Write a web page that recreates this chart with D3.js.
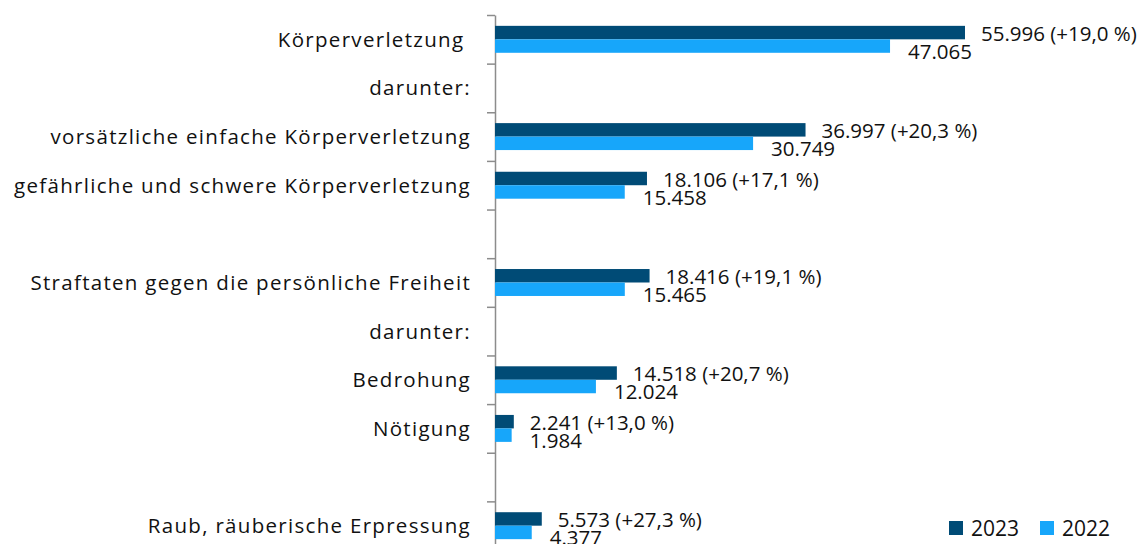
<!DOCTYPE html>
<html>
<head>
<meta charset="utf-8">
<script src="https://cdn.jsdelivr.net/npm/d3@7"></script>
<style>
  html, body { margin: 0; padding: 0; background: #fff; }
  svg { display: block; }
  text { font-family: "Open Sans", "Noto Sans", sans-serif; fill: #111; }
  text.cat { letter-spacing: 1.3px; }
</style>
</head>
<body>
<svg id="chart" width="1142" height="544"></svg>
<script>
// ---- data ----
const categories = [
  "Körperverletzung ",
  "darunter:",
  "vorsätzliche einfache Körperverletzung",
  "gefährliche und schwere Körperverletzung",
  "",
  "Straftaten gegen die persönliche Freiheit",
  "darunter:",
  "Bedrohung",
  "Nötigung",
  "",
  "Raub, räuberische Erpressung"
];
const values2023 = [55996, null, 36997, 18106, null, 18416, null, 14518, 2241, null, 5573];
const values2022 = [47065, null, 30749, 15458, null, 15465, null, 12024, 1984, null, 4377];
const changeLabels = ["+19,0 %", null, "+20,3 %", "+17,1 %", null, "+19,1 %", null, "+20,7 %", "+13,0 %", null, "+27,3 %"];
const seriesNames = ["2023", "2022"];
const colors = ["#004b76", "#17a6fa"];

(function () {
const svg = d3.select("#chart");
const axisX = 495;
const plotTop = 15, plotBottom = 550;

const x = d3.scaleLinear().domain([0, 60000]).range([axisX, axisX + 503.6]);
const rowIdx = d3.range(categories.length);
const y = d3.scaleBand().domain(rowIdx).range([plotTop, plotBottom]).paddingInner(0).paddingOuter(0);
const yLin = d3.scaleLinear().domain([0, categories.length]).range([plotTop, plotBottom]);

const locale = d3.formatLocale({decimal: ",", thousands: ".", grouping: [3], currency: ["", " €"]});
const fmt = locale.format(",d");

const barH = y.bandwidth() * 0.277;

// axis
const axis = d3.axisLeft(yLin).tickValues(d3.range(0, categories.length + 1)).tickSize(8).tickSizeOuter(0).tickFormat("");
const gAxis = svg.append("g").attr("transform", `translate(${axisX},0)`).call(axis);
gAxis.selectAll("path, line").attr("stroke", "#8c8c8c").attr("stroke-width", 1.5);

// category labels
svg.append("g").selectAll("text").data(rowIdx.filter(i => categories[i] !== "")).join("text")
  .attr("class", "cat")
  .attr("x", 471)
  .attr("y", i => y(i) + y.bandwidth() / 2)
  .attr("dy", "0.36em")
  .attr("text-anchor", "end")
  .attr("font-size", 20.5)
  .style("white-space", "pre")
  .text(i => categories[i]);

const center = i => y(i) + y.bandwidth() / 2;
const rows23 = rowIdx.filter(i => values2023[i] != null);

// bars 2023
svg.append("g").selectAll("rect").data(rows23).join("rect")
  .attr("x", x(0))
  .attr("y", i => center(i) - barH)
  .attr("width", i => x(values2023[i]) - x(0))
  .attr("height", barH)
  .attr("fill", colors[0]);

// bars 2022
svg.append("g").selectAll("rect").data(rows23).join("rect")
  .attr("x", x(0))
  .attr("y", i => center(i))
  .attr("width", i => x(values2022[i]) - x(0))
  .attr("height", barH)
  .attr("fill", colors[1]);

// value labels 2023
svg.append("g").selectAll("text").data(rows23).join("text")
  .attr("x", i => x(values2023[i]) + 16)
  .attr("y", i => center(i) + 1.5)
  .attr("font-size", 20.5)
  .text(i => `${fmt(values2023[i])} (${changeLabels[i]})`);

// value labels 2022
svg.append("g").selectAll("text").data(rows23).join("text")
  .attr("x", i => x(values2022[i]) + 18)
  .attr("y", i => center(i) + barH + 6)
  .attr("font-size", 20.5)
  .text(i => fmt(values2022[i]));

// legend
const legendPos = [949, 1040];
const lg = svg.append("g").selectAll("g").data(seriesNames).join("g")
  .attr("transform", (d, i) => `translate(${legendPos[i]},521)`);
lg.append("rect").attr("width", 14).attr("height", 14).attr("fill", (d, i) => colors[i]);
lg.append("text").attr("x", 22).attr("y", 14.5).attr("font-size", 21).text(d => d);
})();
</script>
</body>
</html>
